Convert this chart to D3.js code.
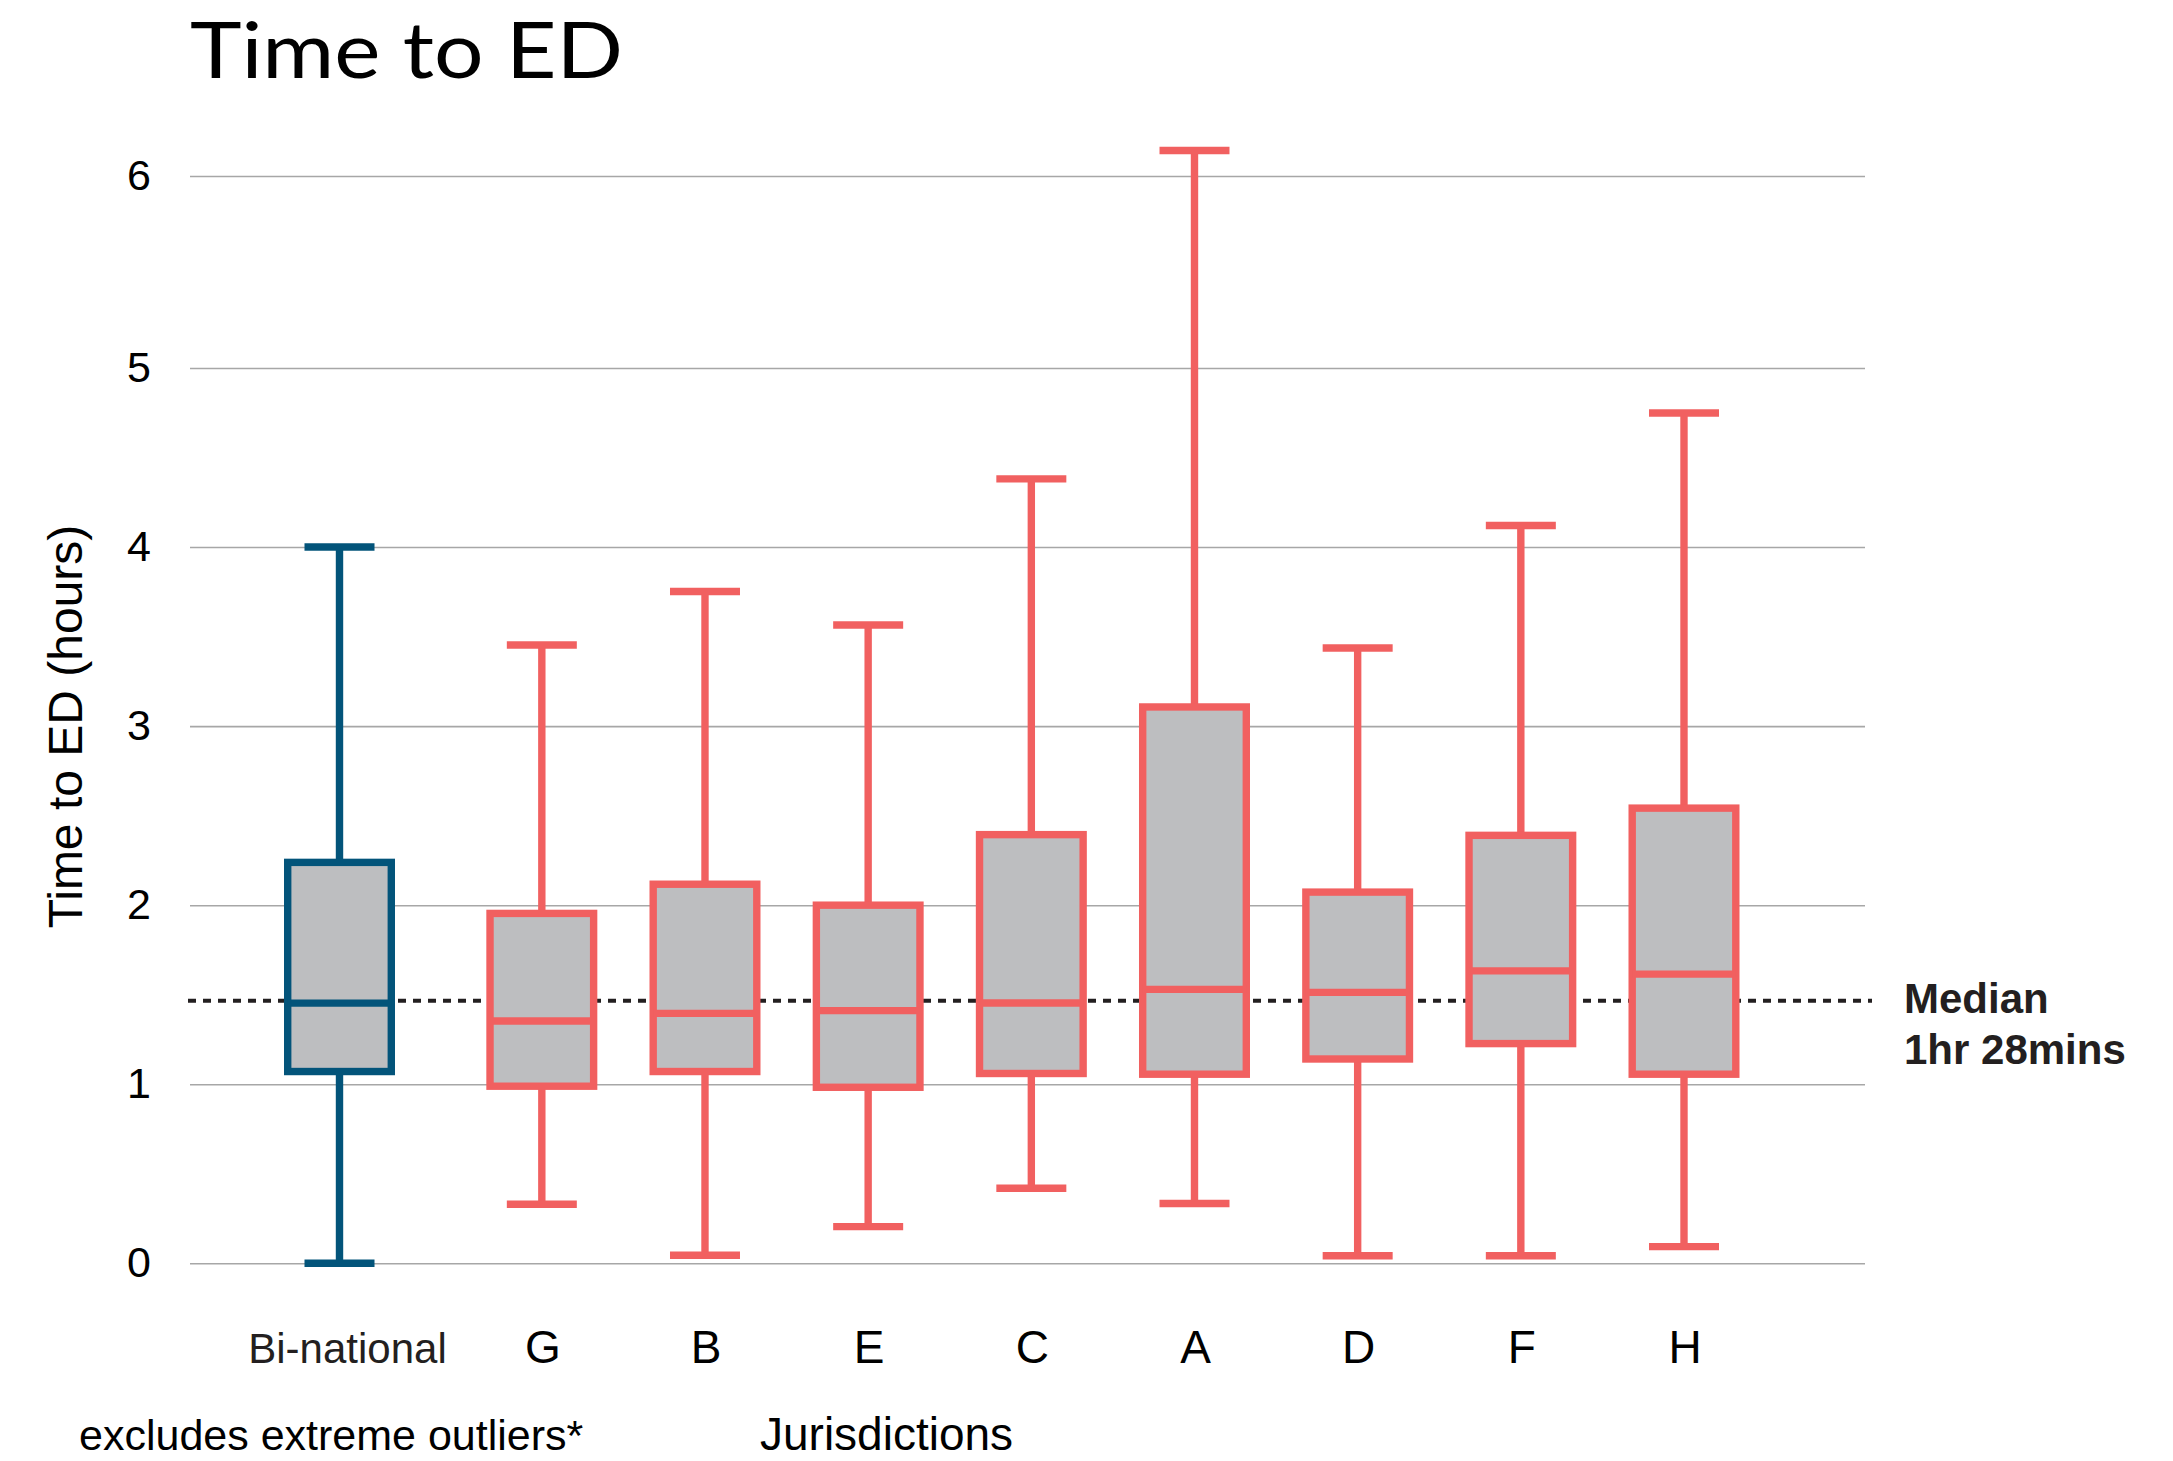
<!DOCTYPE html>
<html>
<head>
<meta charset="utf-8">
<script src="https://cdn.jsdelivr.net/npm/d3@7"></script>
<style>
  html, body { margin: 0; padding: 0; background: #ffffff; }
  svg { display: block; }
</style>
</head>
<body>
<svg id="chart" width="2173" height="1461"></svg>
<script>
// ---------------- data ----------------
const categories   = ["Bi-national", "G", "B", "E", "C", "A", "D", "F", "H"];
const groups       = ["national", "jurisdiction", "jurisdiction", "jurisdiction", "jurisdiction", "jurisdiction", "jurisdiction", "jurisdiction", "jurisdiction"];
const whiskerLow   = [0.000, 0.330, 0.045, 0.205, 0.419, 0.334, 0.042, 0.042, 0.093];
const quartile1    = [1.071, 0.989, 1.071, 0.983, 1.060, 1.056, 1.141, 1.227, 1.056];
const medians      = [1.453, 1.353, 1.396, 1.411, 1.454, 1.530, 1.513, 1.633, 1.615];
const quartile3    = [2.239, 1.954, 2.117, 2.000, 2.394, 3.107, 2.073, 2.390, 2.542];
const whiskerHigh  = [4.000, 3.453, 3.752, 3.565, 4.381, 6.133, 3.436, 4.120, 4.749];
const yTicks       = [0, 1, 2, 3, 4, 5, 6];
const overallMedian = 1 + 28 / 60;           // 1hr 28mins
const medianLabel   = ["Median", "1hr 28mins"];
const chartTitle    = "Time to ED";
const yAxisTitle    = "Time to ED (hours)";
const xAxisTitle    = "Jurisdictions";
const footnote      = "excludes extreme outliers*";

// ---------------- layout ----------------
const svg = d3.select("#chart");
const plotLeft = 190, plotRight = 1865;
const groupGap = 1.24;       // extra spacing (in slots) between Bi-national and jurisdictions
const colors = { national: "#03547a", jurisdiction: "#f16060" };
const boxFill = "#bdbec0";
const strokeW = 7.4;
const boxOuterW = 111;
const capW = 70;

const rows = categories.map((c, i) => ({
  cat: c, group: groups[i],
  lo: whiskerLow[i], q1: quartile1[i], med: medians[i], q3: quartile3[i], hi: whiskerHigh[i],
  slot: i === 0 ? 0 : groupGap + (i - 1)
}));

const x = d3.scaleLinear()
  .domain([0, groupGap + categories.length - 2])
  .range([339.5, 1684]);

// the reference's top gridline sits slightly further from 5 than the regular step
const y = d3.scaleLinear()
  .domain([0, 5, 6])
  .range([1263.3, 368, 176]);

// ---------------- gridlines & y axis ----------------
const yAxis = d3.axisLeft(y)
  .tickValues(yTicks)
  .tickSize(-(plotRight - plotLeft))
  .tickPadding(39)
  .tickFormat(d3.format("d"));

const gy = svg.append("g")
  .attr("transform", `translate(${plotLeft},0)`)
  .call(yAxis);
gy.select(".domain").remove();
gy.selectAll(".tick line")
  .attr("stroke", "#a7a7a7")
  .attr("stroke-width", 1.6);
gy.selectAll(".tick text")
  .attr("font-family", "'Liberation Sans', Arial, sans-serif")
  .attr("font-size", 43)
  .attr("fill", "#000")
  .attr("dy", "0.31em");

// ---------------- overall median dashed line ----------------
svg.append("line")
  .attr("x1", 188).attr("x2", 1872)
  .attr("y1", y(overallMedian)).attr("y2", y(overallMedian))
  .attr("stroke", "#231f20")
  .attr("stroke-width", 3.9)
  .attr("stroke-dasharray", "8 7");

// ---------------- boxes ----------------
const g = svg.append("g").selectAll("g.box")
  .data(rows).join("g").attr("class", "box");

// whiskers
g.append("line")
  .attr("x1", d => x(d.slot)).attr("x2", d => x(d.slot))
  .attr("y1", d => y(d.hi)).attr("y2", d => y(d.q3))
  .attr("stroke", d => colors[d.group]).attr("stroke-width", strokeW);
g.append("line")
  .attr("x1", d => x(d.slot)).attr("x2", d => x(d.slot))
  .attr("y1", d => y(d.q1)).attr("y2", d => y(d.lo))
  .attr("stroke", d => colors[d.group]).attr("stroke-width", strokeW);
// caps
g.append("line")
  .attr("x1", d => x(d.slot) - capW / 2).attr("x2", d => x(d.slot) + capW / 2)
  .attr("y1", d => y(d.hi)).attr("y2", d => y(d.hi))
  .attr("stroke", d => colors[d.group]).attr("stroke-width", strokeW);
g.append("line")
  .attr("x1", d => x(d.slot) - capW / 2).attr("x2", d => x(d.slot) + capW / 2)
  .attr("y1", d => y(d.lo)).attr("y2", d => y(d.lo))
  .attr("stroke", d => colors[d.group]).attr("stroke-width", strokeW);
// box
g.append("rect")
  .attr("x", d => x(d.slot) - (boxOuterW - strokeW) / 2)
  .attr("width", boxOuterW - strokeW)
  .attr("y", d => y(d.q3))
  .attr("height", d => y(d.q1) - y(d.q3))
  .attr("fill", boxFill)
  .attr("stroke", d => colors[d.group])
  .attr("stroke-width", strokeW);
// median
g.append("line")
  .attr("x1", d => x(d.slot) - (boxOuterW - strokeW) / 2)
  .attr("x2", d => x(d.slot) + (boxOuterW - strokeW) / 2)
  .attr("y1", d => y(d.med)).attr("y2", d => y(d.med))
  .attr("stroke", d => colors[d.group]).attr("stroke-width", strokeW);

// ---------------- category labels ----------------
svg.append("g").selectAll("text")
  .data(rows).join("text")
  .attr("x", d => x(d.slot) + (d.group === "national" ? 8 : 1))
  .attr("y", 1363)
  .attr("text-anchor", "middle")
  .attr("font-family", "'Liberation Sans', Arial, sans-serif")
  .attr("font-size", d => d.group === "national" ? 42 : 46)
  .attr("fill", d => d.group === "national" ? "#231f20" : "#000")
  .text(d => d.cat);

// ---------------- titles & notes ----------------
svg.append("text")
  .attr("x", 190).attr("y", 77.5)
  .attr("font-family", "Lato, 'Noto Sans', sans-serif")
  .attr("font-weight", 400)
  .attr("font-size", 77.5)
  .attr("fill", "#000")
  .attr("textLength", 433)
  .attr("lengthAdjust", "spacingAndGlyphs")
  .text(chartTitle);

svg.append("text")
  .attr("transform", "translate(81.7,726.5) rotate(-90)")
  .attr("text-anchor", "middle")
  .attr("font-family", "'Liberation Sans', Arial, sans-serif")
  .attr("font-size", 48)
  .attr("fill", "#000")
  .text(yAxisTitle);

svg.append("text")
  .attr("x", 79).attr("y", 1450)
  .attr("font-family", "'Liberation Sans', Arial, sans-serif")
  .attr("font-size", 43)
  .attr("fill", "#000")
  .text(footnote);

svg.append("text")
  .attr("x", 760).attr("y", 1450)
  .attr("font-family", "'Liberation Sans', Arial, sans-serif")
  .attr("font-size", 46)
  .attr("fill", "#000")
  .text(xAxisTitle);

svg.append("g").selectAll("text")
  .data(medianLabel).join("text")
  .attr("x", 1904)
  .attr("y", (d, i) => 1013.3 + i * 51)
  .attr("font-family", "'Liberation Sans', Arial, sans-serif")
  .attr("font-weight", 700)
  .attr("font-size", 42)
  .attr("fill", "#231f20")
  .text(d => d);
</script>
</body>
</html>
